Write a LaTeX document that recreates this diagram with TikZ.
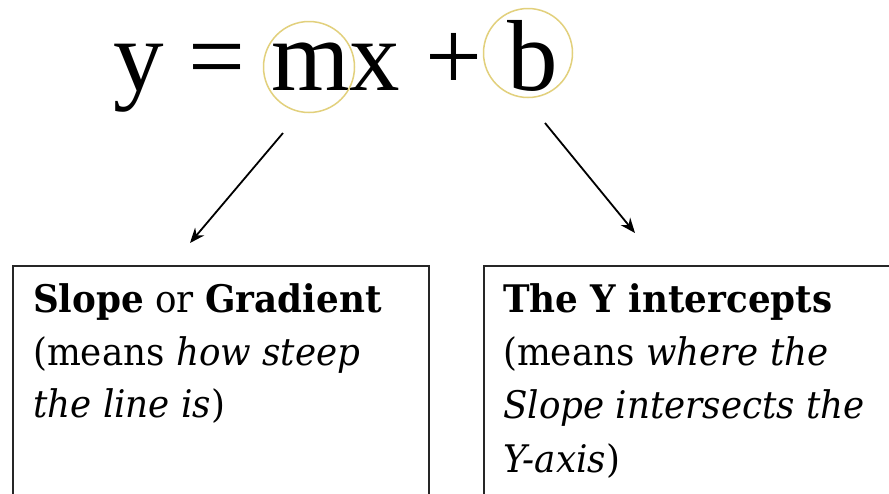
\documentclass[tikz,border=0pt]{standalone}
\usepackage{fontspec}
\setmainfont{Liberation Serif}
\newfontfamily\boxfont[FakeStretch=0.94]{DejaVu Serif}
\usetikzlibrary{arrows.meta}
\definecolor{ring}{HTML}{E2D07C}
\tikzset{
  eq/.style={inner sep=0pt, anchor=base west, font=\fontsize{101}{101}\selectfont},
  ringc/.style={draw=ring, line width=1.5pt, circle, inner sep=0pt},
  box/.style={draw=black!85, line width=1.8pt, rectangle, anchor=north west, inner sep=0pt},
  btext/.style={anchor=base west, inner sep=0pt, font=\boxfont\fontsize{38}{52.5}\selectfont},
  arr/.style={line width=1.8pt, -{Stealth[length=15pt,width=12pt]}}
}
\begin{document}
\begin{tikzpicture}[x=1pt,y=-1pt]
\useasboundingbox (0,0) rectangle (889,493);
\clip (0,0) rectangle (889,493);
\fill[white] (0,0) rectangle (889,493);
\node[eq] (eqn) at (113,90) {y = mx + b};
\node[ringc, minimum size=91pt] (cm) at (309,67) {};
\node[ringc, minimum size=89pt] (cb) at (528,53) {};
\node[box, minimum width=416pt, minimum height=300pt] (lbox) at (12,265) {};
\node[box, minimum width=450pt, minimum height=300pt] (rbox) at (483,265) {};
\node[btext] (l1) at (33,312) {\textbf{Slope} or \textbf{Gradient}};
\node[btext] (l2) at (33,365) {(means \textit{how steep}};
\node[btext] (l3) at (33,417) {\textit{the line is})};
\node[btext] (r1) at (503,312) {\textbf{The Y intercepts}};
\node[btext] (r2) at (503,365) {(means \textit{where the}};
\node[btext] (r3) at (503,418) {\textit{Slope intersects the}};
\node[btext] (r4) at (503,472) {\textit{Y-axis})};
\coordinate (a1s) at (283,133);
\coordinate (a1e) at (190,243);
\coordinate (a2s) at (545,123);
\coordinate (a2e) at (635,233);
\draw[arr] (a1s) -- (a1e);
\draw[arr] (a2s) -- (a2e);
\end{tikzpicture}
\end{document}
